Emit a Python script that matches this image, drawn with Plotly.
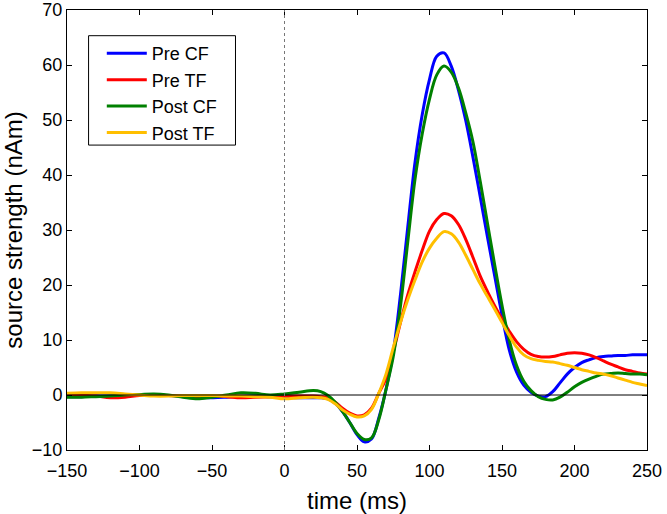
import plotly.graph_objects as go

t = [-150, -140, -130, -120, -110, -100, -90, -80, -70, -60, -50, -40, -30, -20, -10, 0, 10, 20,
     25, 30, 35, 40, 45, 50, 55, 60, 65, 70, 75, 80, 85, 90, 95, 100, 105, 110, 115, 120, 125,
     130, 135, 140, 145, 150, 155, 160, 165, 170, 175, 180, 185, 190, 195, 200, 205, 210, 215,
     220, 225, 230, 235, 240, 245, 250]

pre_cf = [-0.3, -0.3, -0.2, -0.2, -0.1, 0.0, 0.0, -0.1, -0.2, -0.3, -0.5, -0.4, -0.2, -0.2, -0.3, -0.4, -0.5, -0.5,
          -0.5, -0.7, -1.5, -3.0, -5.0, -7.2, -8.5, -8.0, -4.2, 1.0, 7.8, 18.3, 30.5, 42.3, 51.0, 57.4, 61.6, 62.2,
          59.8, 55.4, 49.9, 43.2, 36.0, 28.7, 21.6, 14.5, 8.2, 4.2, 1.8, 0.5, -0.2, -0.3, 0.6, 2.2, 3.8, 5.0,
          5.9, 6.4, 6.8, 7.0, 7.1, 7.2, 7.2, 7.3, 7.3, 7.3]

pre_tf = [0.0, 0.0, -0.2, -0.5, -0.4, -0.1, 0.0, -0.1, -0.2, -0.3, -0.2, -0.3, -0.5, -0.4, -0.3, -0.2, -0.2, -0.2,
          -0.3, -0.5, -1.3, -2.4, -3.3, -3.8, -3.6, -2.4, 0.3, 3.0, 7.8, 13.2, 18.2, 22.4, 26.3, 29.8, 31.9, 33.0,
          32.6, 31.0, 28.3, 25.0, 21.6, 18.8, 16.2, 13.8, 11.6, 9.7, 8.3, 7.4, 7.0, 6.9, 7.0, 7.3, 7.6, 7.7,
          7.6, 7.3, 6.8, 6.2, 5.6, 5.1, 4.6, 4.3, 4.0, 3.8]

post_cf = [-0.4, -0.4, -0.3, -0.2, 0.0, 0.1, 0.2, 0.0, -0.4, -0.7, -0.4, 0.0, 0.4, 0.3, 0.0, 0.2, 0.5, 0.8,
           0.6, -0.1, -1.3, -3.0, -5.0, -7.0, -8.1, -7.8, -4.5, 1.0, 7.0, 16.2, 27.8, 39.2, 47.5, 53.8, 58.2, 59.8,
           58.7, 55.8, 51.3, 46.0, 38.8, 31.2, 23.6, 16.3, 10.0, 5.4, 2.5, 0.8, -0.3, -0.8, -0.9, -0.4, 0.5, 1.5,
           2.3, 2.9, 3.4, 3.8, 3.9, 4.0, 3.9, 3.8, 3.8, 3.7]

post_tf = [0.3, 0.4, 0.4, 0.4, 0.2, 0.0, -0.2, -0.2, -0.1, -0.1, -0.1, -0.2, -0.2, -0.3, -0.4, -0.7, -0.5, -0.4,
           -0.5, -0.8, -1.6, -2.7, -3.5, -4.0, -3.8, -2.6, 0.3, 3.8, 8.6, 13.2, 17.3, 20.9, 24.2, 26.7, 28.5, 29.7,
           29.3, 27.8, 25.4, 22.8, 20.2, 17.9, 15.6, 13.2, 10.8, 8.7, 7.3, 6.6, 6.3, 6.1, 6.0, 5.7, 5.4, 5.0,
           4.6, 4.3, 4.0, 3.8, 3.5, 3.1, 2.7, 2.3, 2.0, 1.7]

series_names = ["Pre CF", "Pre TF", "Post CF", "Post TF"]
series_values = [pre_cf, pre_tf, post_cf, post_tf]
series_colors = ["#0000FF", "#FF0000", "#008000", "#FFBF00"]

x_ticks = [-150, -100, -50, 0, 50, 100, 150, 200, 250]
y_ticks = [-10, 0, 10, 20, 30, 40, 50, 60, 70]

FONT = "Liberation Sans, Arial, Helvetica, sans-serif"

fig = go.Figure()
for name, vals, col in zip(series_names, series_values, series_colors):
    fig.add_trace(go.Scatter(x=t, y=vals, name=name, mode="lines",
                             line=dict(color=col, width=3, shape="spline", smoothing=1.0)))

axis_common = dict(showgrid=False, zeroline=False, showline=True, linecolor="black", linewidth=1,
                   mirror="ticks", ticks="inside", ticklen=5, tickcolor="black", automargin=False,
                   tickfont=dict(family=FONT, size=18, color="black"))

fig.update_layout(
    width=667, height=514,
    margin=dict(l=67, r=20, t=10, b=64),
    paper_bgcolor="white", plot_bgcolor="white",
    font=dict(family=FONT, color="black"),
    xaxis=dict(range=[-150, 250], tickvals=x_ticks, ticktext=[str(v).replace("-", "\u2212") for v in x_ticks],
               ticklabelstandoff=4,
               title=dict(text="time (ms)", font=dict(family=FONT, size=24, color="black"), standoff=14),
               **axis_common),
    yaxis=dict(range=[-10, 70], tickvals=y_ticks, ticktext=[str(v).replace("-", "\u2212") for v in y_ticks],
               title=dict(text="source strength (nAm)", font=dict(family=FONT, size=24, color="black"), standoff=8),
               **axis_common),
    legend=dict(x=0.060, y=0.943, xanchor="left", yanchor="top", bgcolor="rgba(0,0,0,0)",
                borderwidth=0, itemwidth=40, font=dict(family=FONT, size=18, color="black")),
    showlegend=True,
    shapes=[
        dict(type="line", xref="x", yref="y", x0=-150, x1=250, y0=0, y1=0,
             line=dict(color="black", width=1)),
        dict(type="line", xref="x", yref="y", x0=0, x1=0, y0=-10, y1=70,
             line=dict(color="#777777", width=1, dash="dot")),
        dict(type="rect", xref="paper", yref="paper", x0=0.0372, x1=0.2905, y0=0.693, y1=0.9416,
             line=dict(color="black", width=1), fillcolor="rgba(0,0,0,0)"),
    ],
)

fig.write_html("out.html", config={"displayModeBar": False},
               post_script="document.body.style.margin='0px'; document.body.style.overflow='hidden';")
